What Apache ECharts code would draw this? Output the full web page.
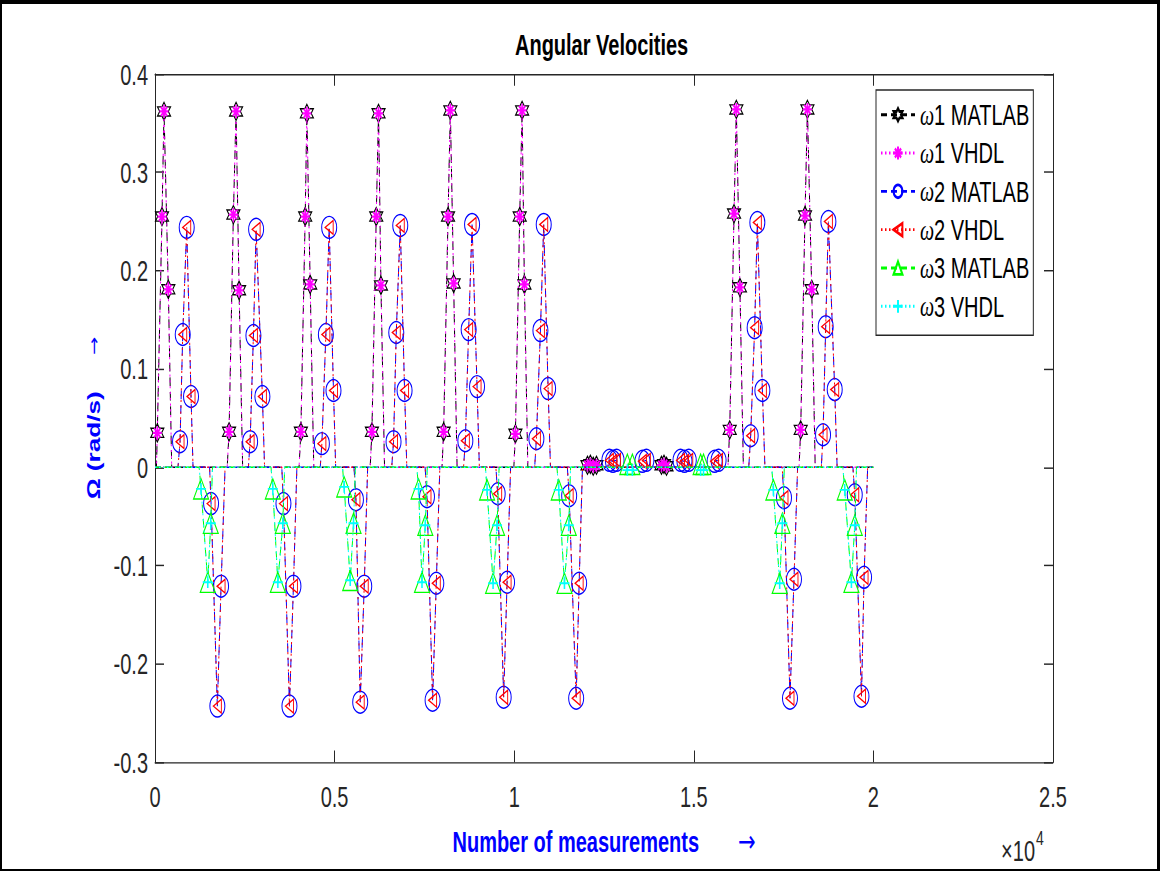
<!DOCTYPE html>
<html><head><meta charset="utf-8">
<script src="https://cdn.jsdelivr.net/npm/echarts@6.0.0/dist/echarts.min.js"></script>
<style>
html,body{margin:0;padding:0;background:#fff;overflow:hidden;width:1160px;height:871px;}
#chart{position:absolute;left:0;top:0;width:1160px;height:600px;transform:scaleY(1.451667);transform-origin:0 0;}
#frame{position:absolute;left:0;top:0;width:1160px;height:871px;box-sizing:border-box;border-style:solid;border-color:#000;border-width:4px 3px 2px 2px;pointer-events:none;}
</style></head><body>
<div id="chart"></div><div id="frame"></div>
<script>
// ---- data (x = number of measurements, y = angular velocity in rad/s) ----
const seriesNames = ['ω1 MATLAB', 'ω1 VHDL', 'ω2 MATLAB', 'ω2 VHDL', 'ω3 MATLAB', 'ω3 VHDL'];
const xTickLabels = ['0', '0.5', '1', '1.5', '2', '2.5'];

const w1Matlab = [
  [0,0],[40,0],[64,0.035],[195,0.255],[251,0.362],[371,0.181],[465,0],
  [2010,0],[2062,0.036],[2182,0.257],[2257,0.362],[2341,0.180],[2440,0],
  [4010,0],[4061,0.036],[4181,0.255],[4228,0.360],[4320,0.186],[4420,0],
  [5990,0],[6039,0.036],[6159,0.255],[6223,0.360],[6290,0.185],[6390,0],
  [7990,0],[8035,0.036],[8158,0.255],[8222,0.363],[8314,0.187],[8410,0],
  [9990,0],[10033,0.034],[10153,0.255],[10220,0.363],[10284,0.186],[10380,0],
  [11990,0],[12040,0.002],[12120,0.003],[12200,0.001],[12290,0.002],[12350,0],
  [14050,0],[14100,0.002],[14170,0.003],[14240,0.001],[14300,0],
  [15950,0],[16000,0.038],[16120,0.258],[16184,0.364],[16284,0.183],[16380,0],
  [17930,0],[17976,0.038],[18096,0.256],[18163,0.364],[18283,0.181],[18380,0],
  [20000,0]
];
const w1Vhdl = [
  [0,0],[40,0],[64,0.035],[195,0.255],[251,0.362],[371,0.181],[465,0],
  [2010,0],[2062,0.036],[2182,0.257],[2257,0.362],[2341,0.180],[2440,0],
  [4010,0],[4061,0.036],[4181,0.255],[4228,0.360],[4320,0.186],[4420,0],
  [5990,0],[6039,0.036],[6159,0.255],[6223,0.360],[6290,0.185],[6390,0],
  [7990,0],[8035,0.036],[8158,0.255],[8222,0.363],[8314,0.187],[8410,0],
  [9990,0],[10033,0.034],[10153,0.255],[10220,0.363],[10284,0.186],[10380,0],
  [11990,0],[12040,0.002],[12120,0.003],[12200,0.001],[12290,0.002],[12350,0],
  [14050,0],[14100,0.002],[14170,0.003],[14240,0.001],[14300,0],
  [15950,0],[16000,0.038],[16120,0.258],[16184,0.364],[16284,0.183],[16380,0],
  [17930,0],[17976,0.038],[18096,0.256],[18163,0.364],[18283,0.181],[18380,0],
  [20000,0]
];
const w2Matlab = [
  [0,0],[640,0],[697,0.026],[772,0.135],[883,0.244],[1003,0.072],[1059,0],
  [1520,0],[1561,-0.037],[1736,-0.243],[1839,-0.121],[1951,0],
  [2600,0],[2648,0.026],[2740,0.134],[2815,0.242],[2990,0.072],[3050,0],
  [3530,0],[3576,-0.037],[3743,-0.243],[3854,-0.121],[3950,0],
  [4600,0],[4646,0.024],[4757,0.135],[4849,0.244],[4969,0.078],[5030,0],
  [5540,0],[5594,-0.033],[5713,-0.239],[5825,-0.121],[5920,0],
  [6590,0],[6641,0.026],[6717,0.137],[6828,0.246],[6948,0.078],[7010,0],
  [7520,0],[7572,-0.030],[7728,-0.237],[7831,-0.118],[7930,0],
  [8590,0],[8640,0.027],[8732,0.140],[8827,0.247],[8966,0.082],[9030,0],
  [9490,0],[9540,-0.027],[9707,-0.234],[9802,-0.117],[9900,0],
  [10570,0],[10618,0.029],[10730,0.139],[10822,0.247],[10944,0.080],[11010,0],
  [11480,0],[11530,-0.029],[11725,-0.235],[11808,-0.118],[11900,0],
  [12600,0],[12650,0.007],[12750,0.006],[12850,0.007],[12900,0],
  [13520,0],[13570,0.006],[13680,0.007],[13730,0],
  [14580,0],[14630,0.007],[14740,0.006],[14860,0.007],[14910,0],
  [15530,0],[15580,0.006],[15690,0.007],[15740,0],
  [16530,0],[16583,0.032],[16694,0.142],[16769,0.249],[16909,0.078],[16980,0],
  [17460,0],[17511,-0.031],[17678,-0.235],[17789,-0.114],[17890,0],
  [18550,0],[18598,0.033],[18672,0.143],[18747,0.250],[18923,0.079],[18990,0],
  [19430,0],[19481,-0.028],[19668,-0.233],[19740,-0.112],[19840,0],
  [20000,0]
];
const w2Vhdl = [
  [0,0],[640,0],[697,0.026],[772,0.135],[883,0.244],[1003,0.072],[1059,0],
  [1520,0],[1561,-0.037],[1736,-0.243],[1839,-0.121],[1951,0],
  [2600,0],[2648,0.026],[2740,0.134],[2815,0.242],[2990,0.072],[3050,0],
  [3530,0],[3576,-0.037],[3743,-0.243],[3854,-0.121],[3950,0],
  [4600,0],[4646,0.024],[4757,0.135],[4849,0.244],[4969,0.078],[5030,0],
  [5540,0],[5594,-0.033],[5713,-0.239],[5825,-0.121],[5920,0],
  [6590,0],[6641,0.026],[6717,0.137],[6828,0.246],[6948,0.078],[7010,0],
  [7520,0],[7572,-0.030],[7728,-0.237],[7831,-0.118],[7930,0],
  [8590,0],[8640,0.027],[8732,0.140],[8827,0.247],[8966,0.082],[9030,0],
  [9490,0],[9540,-0.027],[9707,-0.234],[9802,-0.117],[9900,0],
  [10570,0],[10618,0.029],[10730,0.139],[10822,0.247],[10944,0.080],[11010,0],
  [11480,0],[11530,-0.029],[11725,-0.235],[11808,-0.118],[11900,0],
  [12600,0],[12650,0.007],[12750,0.006],[12850,0.007],[12900,0],
  [13520,0],[13570,0.006],[13680,0.007],[13730,0],
  [14580,0],[14630,0.007],[14740,0.006],[14860,0.007],[14910,0],
  [15530,0],[15580,0.006],[15690,0.007],[15740,0],
  [16530,0],[16583,0.032],[16694,0.142],[16769,0.249],[16909,0.078],[16980,0],
  [17460,0],[17511,-0.031],[17678,-0.235],[17789,-0.114],[17890,0],
  [18550,0],[18598,0.033],[18672,0.143],[18747,0.250],[18923,0.079],[18990,0],
  [19430,0],[19481,-0.028],[19668,-0.233],[19740,-0.112],[19840,0],
  [20000,0]
];
const w3Matlab = [
  [0,0],[1230,0],[1282,-0.022],[1469,-0.117],[1552,-0.057],[1600,0],
  [3230,0],[3280,-0.022],[3420,-0.117],[3559,-0.057],[3610,0],
  [5220,0],[5267,-0.020],[5435,-0.115],[5527,-0.057],[5580,0],
  [7290,0],[7338,-0.022],[7433,-0.117],[7525,-0.059],[7580,0],
  [9200,0],[9245,-0.023],[9412,-0.118],[9523,-0.059],[9580,0],
  [11190,0],[11240,-0.023],[11399,-0.118],[11519,-0.059],[11570,0],
  [13100,0],[13150,0.003],[13290,0.003],[13340,0],
  [15140,0],[15190,0.003],[15270,0.003],[15320,0],
  [17170,0],[17215,-0.023],[17391,-0.118],[17466,-0.057],[17520,0],
  [19150,0],[19202,-0.023],[19388,-0.117],[19481,-0.059],[19530,0],
  [20000,0]
];
const w3Vhdl = [
  [0,0],[1230,0],[1282,-0.022],[1469,-0.117],[1552,-0.057],[1600,0],
  [3230,0],[3280,-0.022],[3420,-0.117],[3559,-0.057],[3610,0],
  [5220,0],[5267,-0.020],[5435,-0.115],[5527,-0.057],[5580,0],
  [7290,0],[7338,-0.022],[7433,-0.117],[7525,-0.059],[7580,0],
  [9200,0],[9245,-0.023],[9412,-0.118],[9523,-0.059],[9580,0],
  [11190,0],[11240,-0.023],[11399,-0.118],[11519,-0.059],[11570,0],
  [13100,0],[13150,-0.003],[13290,-0.003],[13340,0],
  [15140,0],[15190,-0.003],[15270,-0.003],[15320,0],
  [17170,0],[17215,-0.023],[17391,-0.118],[17466,-0.057],[17520,0],
  [19150,0],[19202,-0.023],[19388,-0.117],[19481,-0.059],[19530,0],
  [20000,0]
];
const seriesData = [w1Matlab, w1Vhdl, w2Matlab, w2Vhdl, w3Matlab, w3Vhdl];

// ---- styles ----
const FONT = '"Liberation Sans", Arial, Helvetica, sans-serif';
const ARROWFONT = '"DejaVu Sans", sans-serif';
const AX = '#262626';
const HEXAGRAM = 'path://M50,0 L64.4,25 L93.3,25 L78.9,50 L93.3,75 L64.4,75 L50,100 L35.6,75 L6.7,75 L21.1,50 L6.7,25 L35.6,25 Z';
const ASTERISK = 'path://M50,0L50,100M0,50L100,50M15,15L85,85M85,15L15,85';
const PLUS = 'path://M50,0L50,100M0,50L100,50';
const LTRI = 'path://M0,50L100,0L100,100Z';
const styles = [
  {color:'#000000', dash:[6,4], symbol:HEXAGRAM, size:[13,12.5], bw:1},
  {color:'#ff00ff', dash:[1.5,2.5], symbol:ASTERISK, size:[9,9], bw:1.6},
  {color:'#0000ff', dash:[6,4], symbol:'circle', size:[15,15], bw:1},
  {color:'#ff0000', dash:[1.5,2.5], symbol:LTRI, size:[8,9.5], bw:1},
  {color:'#00ff00', dash:[6,4], symbol:'triangle', size:[15,14], bw:1},
  {color:'#00ffff', dash:[1.5,2.5], symbol:PLUS, size:[10,8], bw:1.4}
];

const series = seriesNames.map((name, i) => {
  const st = styles[i];
  return {
    name: name,
    type: 'line',
    data: seriesData[i],
    symbol: st.symbol,
    symbolSize: function (v) { return v[1] === 0 ? 0 : st.size; },
    symbolKeepAspect: false,
    showSymbol: true,
    lineStyle: {color: st.color, width: 1, type: st.dash},
    itemStyle: {color: 'transparent', borderColor: st.color, borderWidth: st.bw},
    emphasis: {disabled: true},
    z: 2 + i,
    animation: false
  };
});

const chart = echarts.init(document.getElementById('chart'), null, {renderer: 'svg'});
const axisCommon = {
  type: 'value',
  axisLine: {show: true, onZero: false, lineStyle: {color: AX, width: 1}},
  axisTick: {show: true, inside: true, lineStyle: {color: AX}},
  splitLine: {show: false}
};
chart.setOption({
  animation: false,
  backgroundColor: '#ffffff',
  title: {
    text: 'Angular Velocities', left: 510, top: 16,
    textStyle: {fontFamily: FONT, fontSize: 20, fontWeight: 'bold', color: '#000'}
  },
  grid: {left: 155, right: 107, top: 51, bottom: 75},
  legend: {
    data: seriesNames, orient: 'vertical', left: 876, top: 62,
    padding: [7, 4, 10, 4], itemGap: 6.4, itemWidth: 34, itemHeight: 11,
    backgroundColor: '#fff', borderColor: AX, borderWidth: 1, borderRadius: 0,
    selectedMode: false,
    textStyle: {
      fontFamily: FONT, fontSize: 20, color: '#000', lineHeight: 20,
      rich: {
        w: {fontFamily: '"Liberation Serif", "Times New Roman", serif', fontStyle: 'italic', fontSize: 20, lineHeight: 20, color: '#000'},
        t: {fontFamily: FONT, fontSize: 20, lineHeight: 20, color: '#000'}
      }
    },
    formatter: n => '{w|' + n.charAt(0) + '}{t|' + n.slice(1) + '}'
  },
  xAxis: [
    Object.assign({}, axisCommon, {
      position: 'bottom', min: 0, max: 25000, interval: 5000,
      axisTick: {show: true, inside: true, length: 8, lineStyle: {color: AX}},
      axisLabel: {margin: 14, fontFamily: FONT, fontSize: 20, color: AX,
        formatter: (v) => xTickLabels[Math.round(v / 5000)]},
      name: '{b|Number of measurements}{s|       }{a|→}',
      nameLocation: 'middle', nameGap: 44,
      nameTextStyle: {rich: {
        b: {fontFamily: FONT, fontSize: 20, fontWeight: 'bold', color: '#0000ff'},
        s: {fontFamily: FONT, fontSize: 20, color: '#0000ff'},
        a: {fontFamily: ARROWFONT, fontSize: 21, color: '#0000ff'}
      }}
    }),
    Object.assign({}, axisCommon, {
      position: 'top', min: 0, max: 25000, interval: 5000,
      axisTick: {show: true, inside: true, length: 8, lineStyle: {color: AX}},
      axisLabel: {show: false}
    })
  ],
  yAxis: [
    Object.assign({}, axisCommon, {
      position: 'left', min: -0.3, max: 0.4, interval: 0.1,
      axisTick: {show: true, inside: true, length: 9, lineStyle: {color: AX}},
      axisLabel: {margin: 7, fontFamily: FONT, fontSize: 20, color: AX},
      name: '{b|Ω (rad/s)}{s|     }{a|→}',
      nameLocation: 'middle', nameGap: 48, nameRotate: 90,
      nameTextStyle: {rich: {
        b: {fontFamily: FONT, fontSize: 18, fontWeight: 'bold', color: '#0000ff'},
        s: {fontFamily: FONT, fontSize: 18, color: '#0000ff'},
        a: {fontFamily: ARROWFONT, fontSize: 15, color: '#0000ff'}
      }}
    }),
    Object.assign({}, axisCommon, {
      position: 'right', min: -0.3, max: 0.4, interval: 0.1,
      axisTick: {show: true, inside: true, length: 9, lineStyle: {color: AX}},
      axisLabel: {show: false}
    })
  ],
  graphic: [
    {type: 'text', x: 1035, y: 586, style: {text: '×10', fontFamily: FONT, fontSize: 20, fill: AX,
      align: 'right', verticalAlign: 'middle', textAlign: 'right', textVerticalAlign: 'middle'}},
    {type: 'text', x: 1036, y: 577, style: {text: '4', fontFamily: FONT, fontSize: 14, fill: AX,
      align: 'left', verticalAlign: 'middle', textAlign: 'left', textVerticalAlign: 'middle'}}
  ],
  series: series
});
</script></body></html>
